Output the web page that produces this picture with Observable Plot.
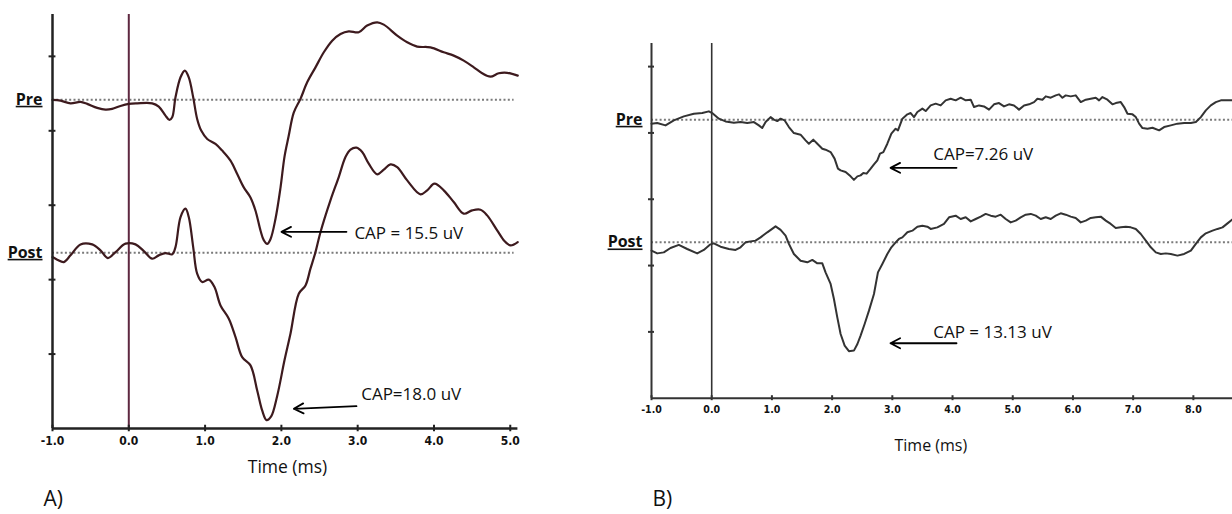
<!DOCTYPE html>
<html>
<head>
<meta charset="utf-8">
<script src="https://cdn.jsdelivr.net/npm/d3@7"></script>
<script src="https://cdn.jsdelivr.net/npm/@observablehq/plot@0.6"></script>
<style>
  html, body { margin: 0; padding: 0; background: #fff; }
  #page { position: relative; width: 1232px; height: 514px; overflow: hidden; }
  .panel { position: absolute; top: 0; }
</style>
</head>
<body>
<div id="page">
  <div id="panelA" class="panel" style="left:0px"></div>
  <div id="panelB" class="panel" style="left:600px"></div>
</div>
<script>
// Compound action potential amplitudes (uV), measured from baseline to negative peak
const capPreA = 15.5;
const capPostA = 18.0;
const capPreB = 7.26;
const capPostB = 13.13;

// Time ticks (ms)
const ticksA = [-1, 0, 1, 2, 3, 4, 5];
const ticksB = [-1, 0, 1, 2, 3, 4, 5, 6, 7, 8];
// Vertical divisions (uV above the axis floor)
const divisions = [8, 16, 24, 32, 40];

// Panel A traces: [time ms, uV relative to baseline]
const preA = [
  [-1.0, -0.03], [-0.895, -0.11], [-0.764, -0.40], [-0.633, -0.25], [-0.545, -0.46], [-0.414, -0.89],
  [-0.305, -1.08], [-0.218, -1.0], [-0.109, -0.68], [0, -0.46], [0.11, -0.40], [0.307, -0.40],
  [0.393, -0.75], [0.481, -1.72], [0.533, -2.18], [0.569, -1.90], [0.612, 0.25], [0.678, 2.40],
  [0.734, 3.12], [0.786, 2.40], [0.844, 0.25], [0.896, -2.08], [0.949, -3.33], [1.028, -4.23],
  [1.136, -4.76], [1.224, -5.48], [1.333, -6.56], [1.421, -7.99], [1.507, -9.43], [1.595, -10.51],
  [1.661, -11.94], [1.727, -14.09], [1.769, -15.1], [1.814, -capPreA], [1.857, -15.0], [1.923, -12.80],
  [1.989, -9.43], [2.041, -6.12], [2.094, -3.97], [2.162, -1.40], [2.25, 0.08], [2.338, 1.86],
  [2.447, 3.47], [2.556, 5.09], [2.666, 6.34], [2.775, 7.06], [2.883, 7.34], [3.014, 7.24],
  [3.124, 7.96], [3.256, 8.31], [3.342, 8.06], [3.518, 6.88], [3.649, 6.16], [3.78, 5.70],
  [3.954, 5.62], [4.128, 5.09], [4.259, 4.73], [4.39, 4.19], [4.522, 3.47], [4.632, 2.83],
  [4.74, 2.47], [4.849, 2.83], [4.959, 2.88], [5.098, 2.58]
];
const postA = [
  [-1.0, -0.47], [-0.938, -0.75], [-0.852, -1.01], [-0.764, -0.29], [-0.633, 0.89], [-0.48, 0.89],
  [-0.371, 0.25], [-0.275, -0.58], [-0.174, 0.06], [-0.043, 0.97], [0.088, 0.89], [0.197, 0.17],
  [0.307, -0.65], [0.393, -0.29], [0.481, -0.04], [0.569, -0.18], [0.612, 0.60], [0.678, 3.83],
  [0.743, 4.73], [0.786, 3.83], [0.844, 0.60], [0.896, -2.26], [0.962, -3.16], [1.048, -2.90],
  [1.123, -3.70], [1.202, -5.67], [1.311, -7.10], [1.399, -9.08], [1.486, -11.23], [1.595, -12.12],
  [1.683, -14.81], [1.748, -16.96], [1.805, -capPostA], [1.866, -17.6], [1.945, -15.4], [2.04, -11.6],
  [2.119, -8.71], [2.228, -4.41], [2.316, -3.52], [2.381, -1.72], [2.447, 0.06], [2.513, 2.22],
  [2.643, 5.62], [2.752, 8.13], [2.84, 10.28], [2.906, 11.08], [2.984, 11.29], [3.059, 10.82],
  [3.145, 9.57], [3.256, 8.42], [3.342, 8.92], [3.43, 9.49], [3.518, 9.20], [3.649, 7.77],
  [3.823, 6.27], [3.911, 6.70], [4.007, 7.42], [4.128, 6.70], [4.259, 5.44], [4.39, 4.19],
  [4.501, 4.55], [4.61, 4.62], [4.697, 4.01], [4.828, 2.40], [4.924, 1.25], [5.003, 0.78],
  [5.098, 1.14]
];

// Panel B traces: [time ms, uV relative to baseline]
const preB = [
  [-1.0, -0.48], [-0.905, -0.41], [-0.767, -0.69], [-0.629, -0.08], [-0.463, 0.40], [-0.297, 0.72],
  [-0.157, 0.80], [-0.048, 1.00], [0.008, 0.80], [0.119, 0.12], [0.23, -0.21], [0.368, -0.36],
  [0.479, -0.29], [0.59, -0.41], [0.701, -0.29], [0.783, -0.69], [0.839, -1.01], [0.895, -0.29],
  [0.978, 0.31], [1.033, 0], [1.089, -0.17], [1.144, 0.12], [1.21, -0.08], [1.282, -0.89],
  [1.365, -1.62], [1.476, -1.81], [1.559, -2.50], [1.614, -2.90], [1.687, -2.41], [1.754, -2.90],
  [1.837, -3.50], [1.891, -3.62], [1.975, -3.91], [2.041, -4.70], [2.097, -5.91], [2.141, -6.12],
  [2.224, -6.32], [2.307, -6.84], [2.362, -capPreB], [2.42, -6.84], [2.473, -6.72], [2.518, -6.44],
  [2.573, -6.51], [2.64, -5.91], [2.695, -5.39], [2.751, -4.91], [2.795, -4.10], [2.851, -3.91],
  [2.917, -2.90], [2.984, -1.69], [3.055, -1.09], [3.094, -1.29], [3.167, 0.12], [3.25, 0.64],
  [3.305, 0.80], [3.36, 0.31], [3.416, 0.92], [3.499, 1.33], [3.554, 1.04], [3.637, 1.72],
  [3.72, 1.93], [3.803, 1.72], [3.886, 2.33], [3.969, 2.53], [4.052, 2.33], [4.135, 2.65],
  [4.219, 2.33], [4.302, 2.41], [4.357, 1.52], [4.44, 1.72], [4.523, 1.60], [4.606, 1.21],
  [4.689, 1.85], [4.772, 2.00], [4.855, 1.60], [4.938, 1.85], [5.021, 1.72], [5.104, 1.21],
  [5.188, 1.72], [5.271, 1.85], [5.354, 2.12], [5.41, 2.53], [5.493, 2.41], [5.548, 2.81],
  [5.631, 2.65], [5.714, 2.93], [5.769, 3.05], [5.825, 2.65], [5.88, 2.93], [5.963, 2.81],
  [6.046, 2.93], [6.13, 2.12], [6.213, 2.41], [6.296, 2.53], [6.379, 2.65], [6.434, 2.33],
  [6.49, 2.73], [6.573, 2.41], [6.656, 1.85], [6.711, 2.00], [6.794, 2.12], [6.85, 1.52],
  [6.906, 0.72], [6.989, 0.64], [7.044, 0.31], [7.099, -0.48], [7.155, -1.01], [7.238, -1.09],
  [7.321, -0.97], [7.431, -1.29], [7.514, -0.89], [7.625, -0.69], [7.736, -0.48], [7.847, -0.41],
  [7.958, -0.41], [8.041, -0.29], [8.124, 0.31], [8.207, 1.12], [8.29, 1.72], [8.373, 2.12],
  [8.457, 2.33], [8.567, 2.33], [8.656, 2.33]
];
const postB = [
  [-1.0, -1.00], [-0.905, -1.33], [-0.796, -1.21], [-0.684, -0.68], [-0.546, -0.31], [-0.407, -0.80],
  [-0.241, -1.33], [-0.131, -0.92], [-0.031, -0.28], [0.035, -0.12], [0.147, -0.52], [0.285, -0.80],
  [0.396, -0.92], [0.479, -0.60], [0.562, 0], [0.728, 0.21], [0.812, 0.60], [0.923, 1.21],
  [1.061, 1.93], [1.144, 1.50], [1.227, 0.81], [1.282, -0.19], [1.365, -1.40], [1.476, -2.21],
  [1.588, -2.41], [1.671, -2.12], [1.754, -2.53], [1.837, -2.53], [1.891, -3.62], [1.975, -5.02],
  [2.03, -6.83], [2.086, -9.05], [2.141, -11.06], [2.208, -12.46], [2.279, -capPostB], [2.362, -13.06],
  [2.42, -12.26], [2.473, -11.25], [2.54, -9.85], [2.612, -8.24], [2.695, -6.23], [2.761, -3.62],
  [2.834, -2.61], [2.917, -1.40], [2.984, -0.60], [3.055, 0], [3.11, 0.41], [3.167, 0.60],
  [3.25, 1.21], [3.333, 1.41], [3.416, 1.89], [3.499, 2.01], [3.582, 1.89], [3.637, 1.62],
  [3.748, 1.81], [3.858, 2.22], [3.942, 3.02], [4.052, 3.22], [4.135, 2.82], [4.219, 3.02],
  [4.302, 2.53], [4.385, 2.82], [4.468, 3.10], [4.551, 3.43], [4.634, 3.22], [4.717, 3.10],
  [4.8, 3.34], [4.883, 2.82], [4.966, 2.41], [5.049, 2.62], [5.132, 3.02], [5.216, 3.34],
  [5.299, 3.43], [5.382, 3.22], [5.465, 2.82], [5.548, 3.02], [5.631, 2.82], [5.714, 3.22],
  [5.797, 3.50], [5.88, 3.34], [5.963, 3.10], [6.046, 2.94], [6.13, 2.41], [6.213, 2.62],
  [6.296, 2.94], [6.379, 3.02], [6.462, 3.10], [6.545, 2.62], [6.628, 2.22], [6.711, 1.74],
  [6.794, 1.81], [6.878, 1.89], [6.961, 1.81], [7.044, 1.62], [7.127, 1.01], [7.21, 0.21],
  [7.293, -0.60], [7.376, -1.21], [7.459, -1.40], [7.542, -1.33], [7.625, -1.40], [7.736, -1.60],
  [7.847, -1.40], [7.958, -1.00], [8.041, -0.19], [8.124, 0.60], [8.207, 1.09], [8.318, 1.41],
  [8.401, 1.62], [8.484, 1.81], [8.567, 2.29], [8.656, 2.82]
];

const textFont = "'Open Sans', 'Noto Sans', sans-serif";
const tickFont = "'Liberation Sans Narrow', 'DejaVu Sans Condensed', 'Arial Narrow', sans-serif";

function recording(cfg) {
  const x0 = cfg.xDomain[0];
  const traceY = base => d => base + d[1];
  const marks = [
    // dotted baselines for each recording
    Plot.ruleY([cfg.preBase, cfg.postBase], {
      x1: x0, x2: cfg.dotEnd, stroke: "#7a7a7a", strokeWidth: 2, strokeDasharray: "2,2.3"
    }),
    // stimulus onset
    Plot.ruleX([0], {y1: 0, y2: cfg.yTop, stroke: cfg.onsetColor, strokeWidth: cfg.onsetWidth}),
    // traces
    Plot.line(cfg.pre, {x: d => d[0], y: traceY(cfg.preBase), stroke: cfg.traceColor,
      strokeWidth: cfg.traceWidth, curve: cfg.curve}),
    Plot.line(cfg.post, {x: d => d[0], y: traceY(cfg.postBase), stroke: cfg.traceColor,
      strokeWidth: cfg.traceWidth, curve: cfg.curve}),
    // axes
    Plot.ruleX([x0], {y1: 0, y2: cfg.yTop, stroke: cfg.axisColor, strokeWidth: cfg.axisWidth}),
    Plot.ruleY([0], {x1: x0, x2: cfg.axisEnd, stroke: cfg.axisColor, strokeWidth: cfg.axisWidth}),
    Plot.ruleX(cfg.xTicks, {x: d => d, y1: -cfg.xTickHalf, y2: cfg.xTickHalf, stroke: cfg.axisColor, strokeWidth: 2}),
    Plot.ruleY(divisions, {y: d => d, x1: x0 - cfg.yTickHalf, x2: x0 + cfg.yTickHalf, stroke: cfg.axisColor, strokeWidth: 2}),
    Plot.text(cfg.xTicks, {x: d => d, y: 0, dy: cfg.tickLabelDy, text: d => d.toFixed(1),
      fontFamily: tickFont, fontWeight: "bold", fontSize: cfg.tickFontSize, fill: "#111"}),
    // trace names
    Plot.text([{y: cfg.preBase, s: "Pre"}, {y: cfg.postBase, s: "Post"}], {
      x: x0, y: "y", text: "s", dx: cfg.nameDx, textAnchor: "end",
      fontFamily: textFont, fontWeight: "bold", fontSize: 16, fill: "#111"
    }),
    // CAP annotations
    Plot.arrow(cfg.arrows, {x1: "xa", y1: "ya", x2: "xb", y2: "yb", stroke: "#000",
      strokeWidth: 1.8, headLength: 9, headAngle: 55}),
    Plot.text(cfg.notes, {x: "x", y: "y", text: "text", textAnchor: "start", lineAnchor: "middle",
      fontFamily: textFont, fontSize: cfg.noteFontSize, fill: "#111"}),
    // axis title and panel letter
    Plot.text(["Time (ms)"], {x: cfg.titleX, y: 0, dy: cfg.titleDy, text: d => d,
      fontFamily: textFont, fontSize: cfg.titleFontSize, fill: "#111"}),
    Plot.text([cfg.letter], {x: x0, y: 0, dx: cfg.letterDx, dy: cfg.letterDy, text: d => d,
      textAnchor: "start", fontFamily: textFont, fontSize: 21, fill: "#111"})
  ];
  const svg = Plot.plot({
    width: cfg.width, height: 514,
    marginLeft: cfg.marginLeft, marginRight: cfg.marginRight,
    marginTop: cfg.marginTop, marginBottom: cfg.marginBottom,
    x: {domain: cfg.xDomain, axis: null},
    y: {domain: [0, cfg.yTop], axis: null},
    style: {background: "transparent", overflow: "visible", fontFamily: textFont},
    marks
  });
  svg.querySelectorAll("text").forEach(t => {
    if (t.textContent === "Pre" || t.textContent === "Post") t.style.textDecoration = "underline";
  });
  return svg;
}

const panelA = recording({
  width: 560, marginLeft: 52, marginRight: 42.6, marginTop: 14, marginBottom: 86,
  xDomain: [-1, 5.1], yTop: 44.5, axisEnd: 5.1, dotEnd: 5.05,
  preBase: 35.35, postBase: 18.9, pre: preA, post: postA,
  xTicks: ticksA, xTickHalf: 0.35, yTickHalf: 0.045, tickLabelDy: 13, tickFontSize: 12,
  traceColor: "#3d1a1e", traceWidth: 2.2, curve: "catmull-rom",
  onsetColor: "#5e2840", onsetWidth: 2, axisColor: "#222", axisWidth: 2.5,
  nameDx: -10, noteFontSize: 17, titleFontSize: 17.5,
  arrows: [
    {xa: 2.853, ya: 21.14, xb: 2.001, yb: 21.14},
    {xa: 2.984, ya: 2.40, xb: 2.163, yb: 2.12}
  ],
  notes: [
    {x: 2.957, y: 21.0, text: `CAP = ${capPreA.toFixed(1)} uV`},
    {x: 3.046, y: 3.65, text: `CAP=${capPostA.toFixed(1)} uV`}
  ],
  titleX: 2.08, titleDy: 39, letter: "A)", letterDx: -9, letterDy: 71
});

const panelB = recording({
  width: 632, marginLeft: 51, marginRight: 0, marginTop: 42.9, marginBottom: 116.3,
  xDomain: [-1, 8.65], yTop: 42.8, axisEnd: 8.65, dotEnd: 8.65,
  preBase: 33.6, postBase: 18.8, pre: preB, post: postB,
  xTicks: ticksB, xTickHalf: 0.3, yTickHalf: 0.05, tickLabelDy: 11, tickFontSize: 10.5,
  traceColor: "#333", traceWidth: 2, curve: "linear",
  onsetColor: "#333", onsetWidth: 1.6, axisColor: "#333", axisWidth: 2,
  nameDx: -9, noteFontSize: 17, titleFontSize: 16,
  arrows: [
    {xa: 4.066, ya: 27.79, xb: 2.97, yb: 27.79},
    {xa: 4.066, ya: 6.63, xb: 2.97, yb: 6.63}
  ],
  notes: [
    {x: 3.679, y: 29.4, text: `CAP=${capPreB.toFixed(2)} uV`},
    {x: 3.679, y: 7.86, text: `CAP = ${capPostB.toFixed(2)} uV`}
  ],
  titleX: 3.64, titleDy: 48, letter: "B)", letterDx: 1, letterDy: 101
});

document.getElementById("panelA").appendChild(panelA);
document.getElementById("panelB").appendChild(panelB);
</script>
</body>
</html>
